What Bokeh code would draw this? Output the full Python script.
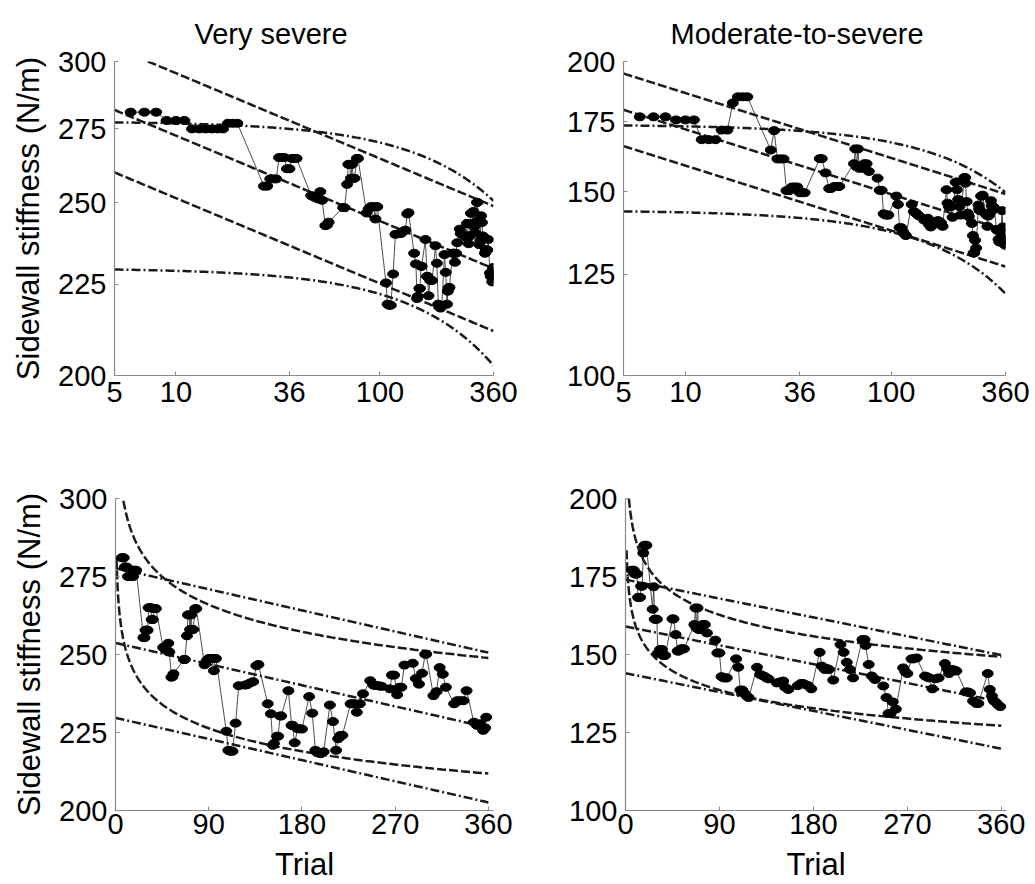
import numpy as np
from bokeh.plotting import figure
from bokeh.layouts import column, row
from bokeh.models import FixedTicker, NumeralTickFormatter
from bokeh.embed import file_html
from bokeh.resources import INLINE

# ---------------- data ----------------
vs_trial = [6, 7, 8, 9, 10, 11, 12, 13, 14, 15, 16, 17, 18, 19, 20,
            27, 28, 29, 30, 31, 32, 33, 34, 35, 36, 37, 38, 39,
            46, 47, 48, 49, 50, 51, 52, 54, 55, 56,
            66, 67, 69, 70, 71, 72, 73, 74, 75, 77, 78,
            86, 88, 89, 90, 91, 93, 95, 96, 97,
            107, 109, 110, 111, 113, 116, 119, 125, 127, 130, 133, 136, 138,
            147, 150, 152, 153, 156, 157, 159, 160, 167, 170, 171, 173, 176, 178, 180,
            187, 190, 193, 195, 198, 201, 207, 210, 213, 215, 217, 219,
            227, 229, 231, 233, 236, 239, 246, 249, 251, 253, 255, 257,
            265, 267, 269, 272, 274, 276, 279, 287, 290, 293, 296, 299, 300,
            307, 310, 313, 316, 319, 327, 330, 333, 336, 339,
            346, 349, 352, 355, 357, 358]
vs_value = [281, 281, 281, 278, 278, 278, 275, 275, 275, 275, 275, 275, 277, 277, 277,
            255.4, 255.4, 257.8, 257.8, 257.8, 265, 265, 265, 261.2, 261.2, 264.7, 264.7, 264.7,
            252.3, 252.0, 251.7, 251.5, 251.2, 253.6, 250.8, 242.7, 242.9, 243.8,
            248.4, 248.4, 256, 262.7, 262.7, 258, 262.7, 258, 258, 264.7, 264.7,
            246.7, 248, 248.3, 248.7, 248.7, 248.7, 244.8, 248.7, 248.7,
            225.4, 219.3, 219.1, 219, 219, 228, 240, 240.2, 240.3, 240.9, 241.3, 246.4, 246.8,
            234.2, 231, 220.9, 221.5, 223.8, 223.8, 230.3, 230.3, 238.4, 227.3, 227.3, 221.7, 226.2, 226.2, 226.1,
            236.5, 231.2, 219.3, 218.5, 218.2, 218.8, 233.8, 228.5, 219.3, 223, 224, 224.1,
            234.2, 234.2, 234.2, 231.5, 234.2, 237.4, 241.6, 240.2, 240.1, 240, 239.9, 239.8,
            239, 243.4, 243.4, 237.1, 239.5, 239.5, 246.6, 247.2, 242.3, 240.5, 244, 250.1, 250.1,
            236.8, 238.1, 245.8, 243.7, 239.5, 234.2, 235.2, 235.2, 235.2, 238.4,
            228.3, 227.3, 227.8, 225.7, 226.5, 229.9]

ms_trial = [6, 7, 8, 9, 10, 11, 12, 13, 14, 15, 16, 17, 18, 19, 20,
            26, 27, 28, 29, 30, 31, 32, 33, 34, 35, 36, 37, 38,
            45, 46, 48, 50, 51, 53, 55, 56,
            66, 67, 68, 69, 70, 72, 74, 76, 78,
            86, 88, 90, 92, 94, 96, 97,
            106, 108, 110, 112, 114, 116, 118,
            126, 129, 131, 133, 135, 137,
            145, 148, 151, 153, 156,
            165, 168, 170, 172, 175, 178,
            186, 188, 191, 193, 195, 199,
            206, 209, 212, 215, 218,
            227, 229, 230, 233, 236, 239,
            247, 250, 252, 254, 256, 259,
            266, 268, 270, 274, 276, 279,
            287, 289, 291, 294, 297, 300,
            306, 308, 310, 313, 315, 317,
            326, 328, 330, 333, 336, 338,
            347, 349, 351, 353, 355, 357, 359]
ms_value = [177, 177, 177, 175.8, 175.8, 175.8, 168.3, 168.3, 168.3, 171.9, 171.9, 182.5, 185, 185, 185,
            164.5, 171.7, 161.3, 161.3, 161.3, 150.4, 150.4, 151.6, 151.6, 151.6, 149.7, 149.7, 149.7,
            161.4, 161.4, 156.4, 151.1, 151.1, 151.8, 151.8, 151.8,
            159.6, 164.9, 158.5, 164.9, 158, 158, 159.6, 159.6, 156.9,
            154.6, 150.5, 150.5, 142.9, 142.5, 142.5, 142.5,
            148.6, 145.9, 138.6, 138.6, 137.5, 136.7, 136.2,
            145.9, 143.6, 143.3, 143, 142.5, 142.2,
            140.9, 141.2, 141.5, 139.5, 138.8,
            140, 140.7, 140.7, 140.4, 140, 139,
            150.7, 146.3, 145.2, 145.5, 145.2, 141.8,
            153.2, 150.7, 147.5, 145.2, 142.5,
            154.8, 154.8, 152.9, 146.8, 143.1, 142,
            139.9, 136.2, 131.1, 131.1, 134.8, 132.5,
            145.7, 144.5, 143.9, 148.6, 148.6, 148.9,
            143.1, 142.8, 142.5, 139, 142.2, 142.5,
            147.1, 145.5, 143.9, 145.2, 145, 144.7,
            138, 138, 137.7, 135.1, 134.3, 134.3,
            143.9, 138.8, 136.7, 135.1, 134.6, 133.8, 133.3]

# fitted models (linear: a + b*x ; power: c * x**d)
vs_lin_intercept, vs_lin_slope, vs_lin_band = 253.7, -0.0753, 24.0
vs_pow_coef, vs_pow_exp, vs_pow_factor = 304.4, -0.0479, 1.084
ms_lin_intercept, ms_lin_slope, ms_lin_band = 159.0, -0.0672, 15.0
ms_pow_coef, ms_pow_exp, ms_pow_factor = 198.7, -0.0622, 1.0834

x_ticks_log = [5, 10, 36, 100, 360]
x_ticks_lin = [0, 90, 180, 270, 360]
vs_y_ticks = [200, 225, 250, 275, 300]
ms_y_ticks = [100, 125, 150, 175, 200]

FONT = "Liberation Sans"
DASH = "9 3"
DASHDOT = "9 3 2 3"
LC = "#1a1a1a"
LW = 2.5


def style(p, xticks, yticks):
    p.xgrid.visible = False
    p.ygrid.visible = False
    p.outline_line_color = None
    for ax, ticks in ((p.xaxis, xticks), (p.yaxis, yticks)):
        ax.ticker = FixedTicker(ticks=ticks)
        ax.formatter = NumeralTickFormatter(format="0")
        ax.axis_line_color = "#8a8a8a"
        ax.axis_line_width = 1.2
        ax.major_tick_line_color = "#8a8a8a"
        ax.major_tick_in = 4
        ax.major_tick_out = 0
        ax.minor_tick_line_color = None
        ax.major_label_text_font = FONT
        ax.major_label_text_font_size = "29px"
        ax.major_label_text_color = "black"
        ax.axis_label_text_font = FONT
        ax.axis_label_text_font_size = "31px"
        ax.axis_label_text_font_style = "normal"
        ax.axis_label_text_color = "black"
    p.yaxis.major_label_standoff = 8
    p.yaxis.axis_label_standoff = 9
    p.xaxis.major_label_standoff = 3
    p.xaxis.axis_label_standoff = 10
    p.xaxis.axis_label_text_line_height = 0.8


def data_marks(p, t, v):
    p.line(t, v, line_color="#202020", line_width=0.8)
    p.ellipse(x=t, y=v, width=11, height=8, width_units="screen", height_units="screen",
              fill_color="black", line_color="black")


def panel_log(t, v, lin, pw, yr, yticks, title, ylabel, w, h, borders, title_offset):
    p = figure(width=w, height=h, x_axis_type="log", y_axis_type="log",
               x_range=(5, 360), y_range=yr, output_backend="svg", toolbar_location=None,
               min_border_left=borders[0], min_border_right=borders[1],
               min_border_top=borders[2], min_border_bottom=borders[3])
    style(p, x_ticks_log, yticks)
    p.xaxis.major_label_standoff = 6
    a, b, band = lin
    c, d, f = pw
    xs = np.geomspace(5, 360, 300)
    pc = c * xs ** d
    p.line(xs, pc, line_dash=DASH, line_color=LC, line_width=LW)
    p.line(xs, pc * f, line_dash=DASH, line_color=LC, line_width=LW)
    p.line(xs, pc / f, line_dash=DASH, line_color=LC, line_width=LW)
    lc = a + b * xs
    p.line(xs, lc + band, line_dash=DASHDOT, line_color=LC, line_width=LW)
    p.line(xs, lc - band, line_dash=DASHDOT, line_color=LC, line_width=LW)
    data_marks(p, t, v)
    p.title.text = title
    p.title.align = "left"
    p.title.offset = title_offset
    p.title.text_font = FONT
    p.title.text_font_size = "29px"
    p.title.text_font_style = "normal"
    p.title.text_color = "black"
    p.title.vertical_align = "top"
    p.title.standoff = 20
    if ylabel:
        p.yaxis.axis_label = ylabel
    return p


def panel_lin(t, v, lin, pw, yr, yticks, ylabel, w, h, borders):
    p = figure(width=w, height=h, x_range=(0, 365), y_range=yr,
               output_backend="svg", toolbar_location=None,
               min_border_left=borders[0], min_border_right=borders[1],
               min_border_top=borders[2], min_border_bottom=borders[3])
    style(p, x_ticks_lin, yticks)
    a, b, band = lin
    c, d, f = pw
    xl = np.linspace(0, 360, 100)
    lc = a + b * xl
    p.line(xl, lc, line_dash=DASHDOT, line_color=LC, line_width=LW)
    p.line(xl, lc + band, line_dash=DASHDOT, line_color=LC, line_width=LW)
    p.line(xl, lc - band, line_dash=DASHDOT, line_color=LC, line_width=LW)
    xp = np.geomspace(1, 360, 400)
    pc = c * xp ** d
    p.line(xp, pc * f, line_dash=DASH, line_color=LC, line_width=LW)
    p.line(xp, pc / f, line_dash=DASH, line_color=LC, line_width=LW)
    data_marks(p, t, v)
    p.xaxis.axis_label = "Trial"
    if ylabel:
        p.yaxis.axis_label = ylabel
    return p


YL = "Sidewall stiffness (N/m)"
vs_lin = (vs_lin_intercept, vs_lin_slope, vs_lin_band)
vs_pow = (vs_pow_coef, vs_pow_exp, vs_pow_factor)
ms_lin = (ms_lin_intercept, ms_lin_slope, ms_lin_band)
ms_pow = (ms_pow_coef, ms_pow_exp, ms_pow_factor)

p1 = panel_log(vs_trial, vs_value, vs_lin, vs_pow, (200, 300), vs_y_ticks,
               "Very severe", YL, 520, 440, (114, 27, 61, 65), 80)
p2 = panel_log(ms_trial, ms_value, ms_lin, ms_pow, (100, 200), ms_y_ticks,
               "Moderate-to-severe", None, 515, 440, (103, 30, 61, 65), 47)
p3 = panel_lin(vs_trial, vs_value, vs_lin, vs_pow, (200, 300), vs_y_ticks,
               YL, 520, 444, (115, 27, 58, 72))
p4 = panel_lin(ms_trial, ms_value, ms_lin, ms_pow, (100, 200), ms_y_ticks,
               None, 515, 444, (105, 29, 58, 72))

layout = column(row(p1, p2), row(p3, p4))
open("out.html", "w").write(file_html(layout, INLINE))
